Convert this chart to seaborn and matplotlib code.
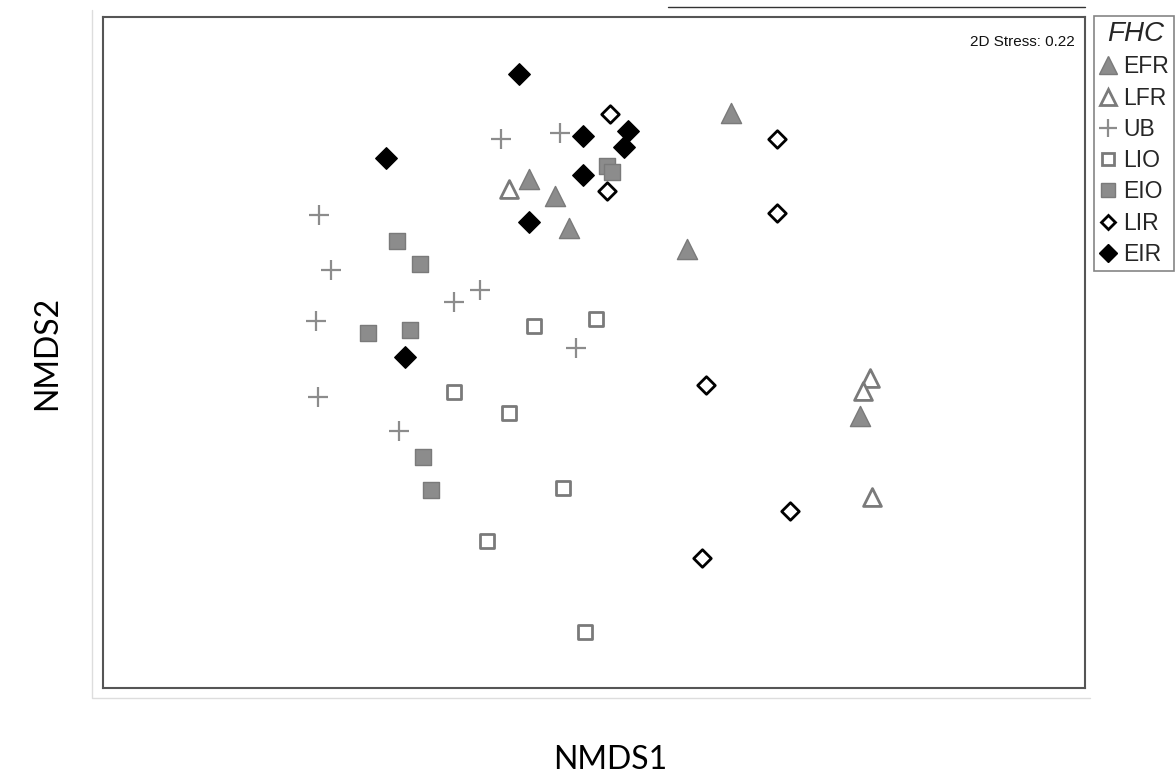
#!/usr/bin/env python3
import matplotlib
matplotlib.use("Agg")
import matplotlib.pyplot as plt
from matplotlib.lines import Line2D
import seaborn as sns
import pandas as pd

sns.set_theme(style="white")
plt.rcParams['font.family'] = ['Liberation Sans', 'DejaVu Sans']

# NMDS scores, one pair of lists per FHC group
efr_x = [0.328, -0.178, -0.113, -0.078, 0.218, 0.650]
efr_y = [0.593, 0.428, 0.385, 0.305, 0.253, -0.165]

lfr_x = [-0.228, 0.675, 0.658, 0.680]
lfr_y = [0.403, -0.070, -0.103, -0.368]

ub_x = [-0.248, -0.100, -0.703, -0.673, -0.365, -0.300, -0.710, -0.060, -0.705, -0.503]
ub_y = [0.528, 0.543, 0.338, 0.200, 0.120, 0.150, 0.073, 0.005, -0.118, -0.203]

lio_x = [-0.165, -0.010, -0.365, -0.228, -0.093, -0.283, -0.038]
lio_y = [0.060, 0.078, -0.105, -0.158, -0.345, -0.478, -0.705]

eio_x = [-0.508, -0.450, -0.580, -0.475, -0.443, -0.423, 0.018, 0.030]
eio_y = [0.273, 0.215, 0.043, 0.050, -0.268, -0.350, 0.460, 0.445]

lir_x = [0.025, 0.018, 0.443, 0.443, 0.265, 0.475, 0.255]
lir_y = [0.590, 0.398, 0.528, 0.343, -0.088, -0.403, -0.520]

eir_x = [-0.203, -0.535, -0.043, 0.070, 0.060, -0.043, -0.178, -0.488]
eir_y = [0.690, 0.480, 0.535, 0.548, 0.508, 0.438, 0.320, -0.018]

groups = ['EFR', 'LFR', 'UB', 'LIO', 'EIO', 'LIR', 'EIR']
stress = 0.22

frames = []
for name, xs, ys in [('EFR', efr_x, efr_y), ('LFR', lfr_x, lfr_y), ('UB', ub_x, ub_y),
                     ('LIO', lio_x, lio_y), ('EIO', eio_x, eio_y),
                     ('LIR', lir_x, lir_y), ('EIR', eir_x, eir_y)]:
    frames.append(pd.DataFrame({'NMDS1': xs, 'NMDS2': ys, 'FHC': name}))
df = pd.concat(frames, ignore_index=True)

GREY = '#8c8c8c'
EDGE = '#7a7a7a'
# marker style per group: (marker, size, face, edge, linewidth)
styles = {
    'EFR': ('^', 210, GREY, EDGE, 1.0),
    'LFR': ('^', 165, 'white', EDGE, 2.0),
    'UB':  ('+', 220, GREY, GREY, 1.6),
    'LIO': ('s', 115, 'white', EDGE, 2.0),
    'EIO': ('s', 145, GREY, EDGE, 1.0),
    'LIR': ('D', 80, 'white', 'black', 2.0),
    'EIR': ('D', 120, 'black', 'black', 1.0),
}

fig = plt.figure(figsize=(11.76, 7.73), dpi=100)
ax = fig.add_axes([103 / 1176, 1 - 688 / 773, (1085 - 103) / 1176, (688 - 17) / 773])

for g in groups:
    m, s, fc, ec, lw = styles[g]
    sub = df[df['FHC'] == g]
    if m == '+':
        sns.scatterplot(data=sub, x='NMDS1', y='NMDS2', marker=m, s=s,
                        color=fc, linewidth=lw, ax=ax)
    else:
        sns.scatterplot(data=sub, x='NMDS1', y='NMDS2', marker=m, s=s,
                        facecolor=fc, edgecolor=ec, linewidth=lw, ax=ax)

ax.set_xlim(-1.2425, 1.2125)
ax.set_ylim(-0.845, 0.8325)
ax.set_xticks([])
ax.set_yticks([])
for sp in ax.spines.values():
    sp.set_color('#555555')
    sp.set_linewidth(1.5)

ax.text(0.99, 0.973, f'2D Stress: {stress:.2f}', transform=ax.transAxes,
        ha='right', va='top', fontsize=11, color='#111111')

lab_font = ['Lato', 'DejaVu Sans']
ax.set_xlabel('NMDS1', fontsize=23, family=lab_font, color='black')
ax.xaxis.set_label_coords((610 - 103) / 982, (688 - 769) / 671)
ax.xaxis.label.set_verticalalignment('baseline')
ax.set_ylabel('NMDS2', fontsize=23, family=lab_font, color='black')
ax.yaxis.set_label_coords((47 - 103) / 982, 0.5)
ax.yaxis.label.set_verticalalignment('center')

# legend, partly running off the right edge as in the original
handles = []
for g in groups:
    m, s, fc, ec, lw = styles[g]
    if m == '+':
        h = Line2D([], [], marker=m, linestyle='none', markersize=13,
                   markeredgecolor=fc, markeredgewidth=1.6)
    else:
        h = Line2D([], [], marker=m, linestyle='none', markersize=s ** 0.5 * 0.85,
                   markerfacecolor=fc, markeredgecolor=ec, markeredgewidth=lw)
    handles.append(h)

leg = fig.legend(handles, groups, loc='upper left',
                 bbox_to_anchor=(1094 / 1176, 1 - 16 / 773),
                 frameon=True, fancybox=False, fontsize=16.5,
                 title='FHC', title_fontproperties={'size': 20, 'style': 'italic'},
                 handlelength=0.75, handletextpad=0.3, labelspacing=0.36,
                 borderpad=0.22, borderaxespad=0)
leg.get_frame().set_edgecolor('#666666')
leg.get_frame().set_linewidth(1.2)
leg._legend_box.align = 'left'
leg.get_title().set_position((8, 0))

# thin rule above the panel and faint outer frame
fig.add_artist(Line2D([668 / 1176, 1085 / 1176], [1 - 7 / 773] * 2,
                      transform=fig.transFigure, color='#333333', lw=1))
fig.add_artist(Line2D([92 / 1176, 92 / 1176, 1090 / 1176], [1 - 10 / 773, 1 - 698 / 773, 1 - 698 / 773],
                      transform=fig.transFigure, color='#dddddd', lw=1))

fig.savefig('out.png', dpi=100)
